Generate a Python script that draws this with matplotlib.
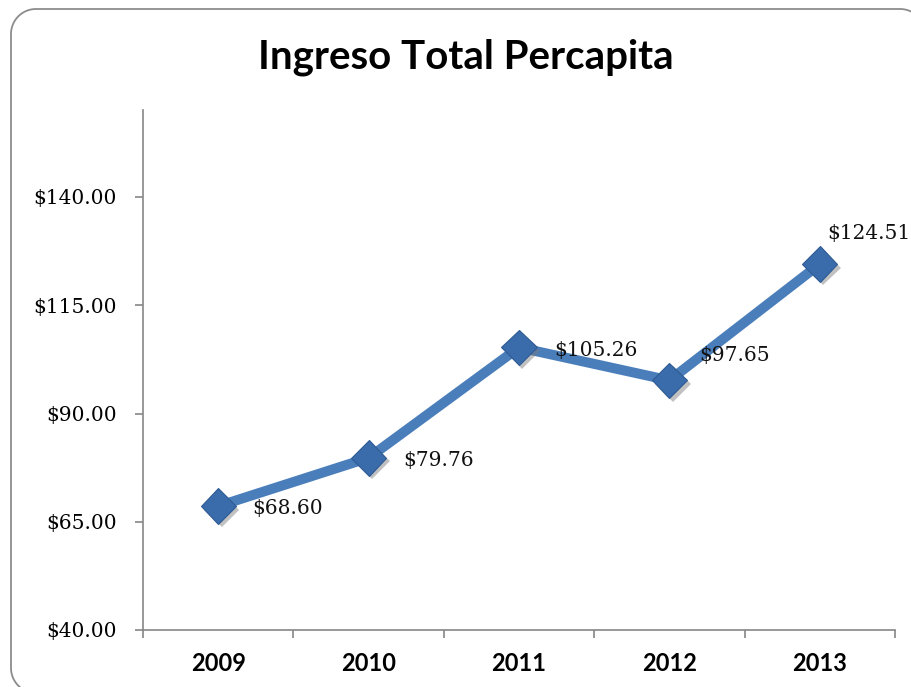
import numpy as np
import matplotlib.pyplot as plt
from matplotlib.lines import Line2D
from matplotlib.transforms import IdentityTransform
import matplotlib.patheffects as pe

years = ['2009', '2010', '2011', '2012', '2013']
ingreso = [68.60, 79.76, 105.26, 97.65, 124.51]
yticks = [40, 65, 90, 115, 140]

# where each value label sits relative to its point (pixels)
label_off = [(34, -2), (35, -3), (35, -3), (30, 25), (7, 31)]

W, H = 912, 687
fig = plt.figure(figsize=(W / 100, H / 100), dpi=100)

# rounded frame: only the part inside the canvas (top-right, top-left, bottom-left corners)
r = 25
def arc(cx, cy, a0, a1):
    t = np.radians(np.linspace(a0, a1, 30))
    return cx + r * np.cos(t), cy + r * np.sin(t)

top, left, bottom, right = H - 9, 11, H - 693, 925
segs = [arc(right - r, top - r, 61, 90),
        arc(left + r, top - r, 90, 180),
        arc(left + r, bottom + r, 180, 270)]
fx = np.concatenate([s[0] for s in segs])
fy = np.concatenate([s[1] for s in segs])
fig.add_artist(Line2D(fx, fy, transform=IdentityTransform(), color='#8c8c8c', lw=1.3))

ax = fig.add_axes([143 / W, 57 / H, 752 / W, 519.6 / H])
ax.patch.set_alpha(0)

x = list(range(len(years)))
ax.plot(x, ingreso, color='#4a7ebb', lw=7.2, solid_capstyle='butt', zorder=2)
ax.plot(x, ingreso, ls='none', marker='D', ms=18, mfc='#3a6cab', mec='#2f5b93', mew=0.8,
        zorder=3,
        path_effects=[pe.SimplePatchShadow(offset=(2.5, -2.5), shadow_rgbFace='#777777', alpha=0.45),
                      pe.Normal()])

for xi, v, (dx, dy) in zip(x, ingreso, label_off):
    ax.annotate(f'${v:.2f}', (xi, v), xytext=(dx, dy), textcoords='offset pixels',
                ha='left', va='center', fontsize=14.5, family='DejaVu Serif', color='#111111',
                zorder=4)

ax.set_xlim(-0.5, 4.5)
ax.set_ylim(40, 160)

ax.set_yticks(yticks)
ax.set_yticklabels([f'${t:.2f}' for t in yticks], family='DejaVu Serif', fontsize=14.5)
ax.tick_params(axis='y', length=6, width=1.2, color='#868686', pad=13)

ax.set_xticks(x)
ax.set_xticklabels(years, family='Lato', fontweight='bold', fontsize=17)
ax.set_xticks([i - 0.5 for i in range(len(years) + 1)], minor=True)
ax.tick_params(axis='x', which='major', length=0, pad=16)
ax.tick_params(axis='x', which='minor', length=6, width=1.2, color='#868686')

for s in ['top', 'right']:
    ax.spines[s].set_visible(False)
for s in ['left', 'bottom']:
    ax.spines[s].set_color('#868686')
    ax.spines[s].set_linewidth(1.2)

fig.text(466 / W, 1 - 57 / H, 'Ingreso Total Percapita', ha='center', va='center',
         family='Lato', fontweight='bold', fontsize=29)

fig.savefig('out.png', dpi=100)
